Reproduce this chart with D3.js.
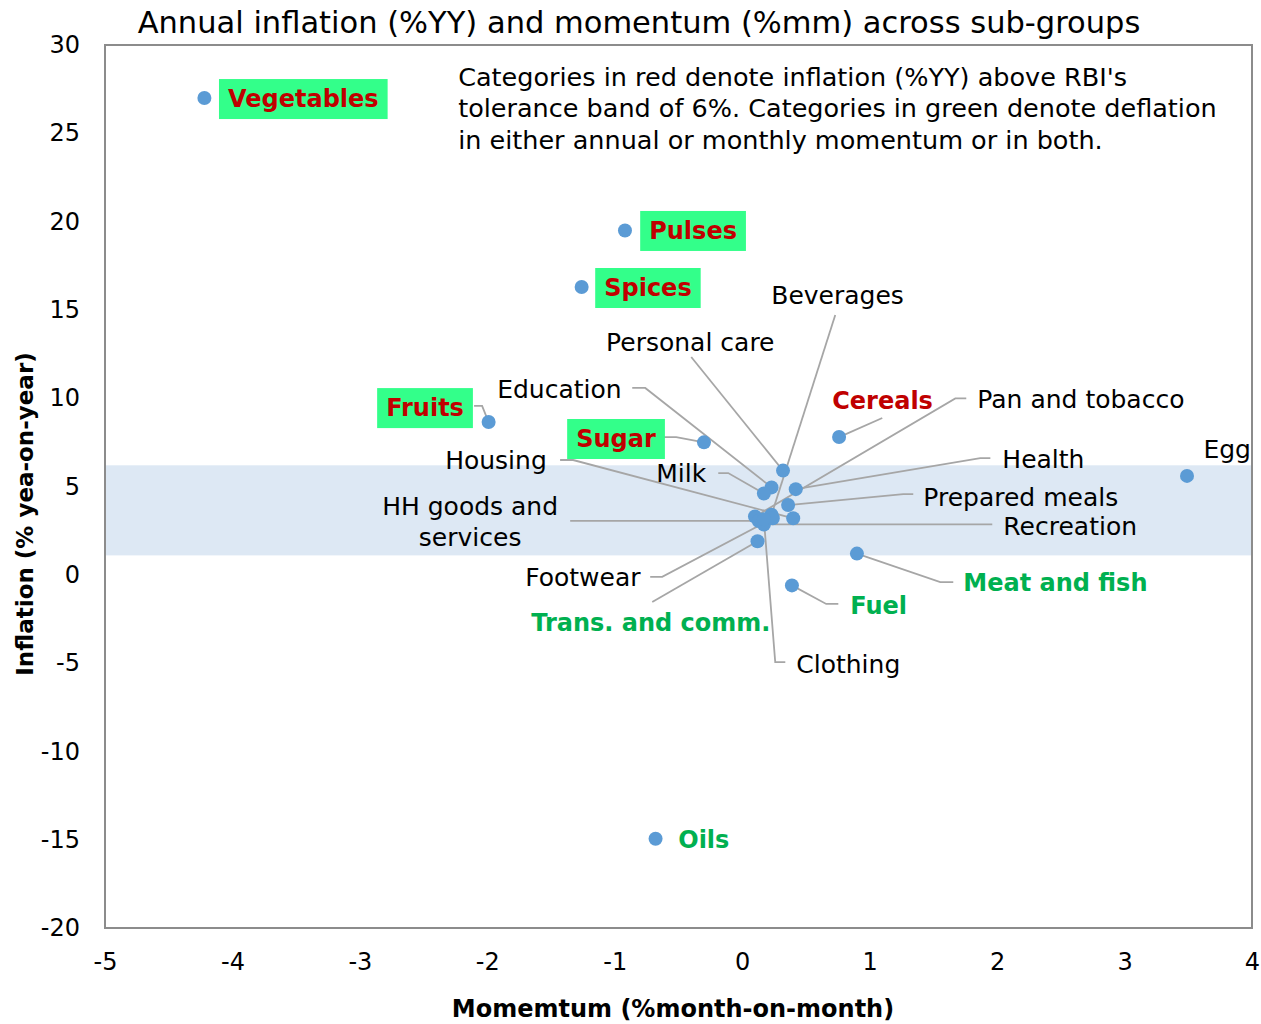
<!DOCTYPE html>
<html>
<head>
<meta charset="utf-8">
<script src="https://cdn.jsdelivr.net/npm/d3@7"></script>
<style>
  body { margin: 0; background: #fff; }
  text { font-family: "DejaVu Sans", sans-serif; }
</style>
</head>
<body>
<svg width="1261" height="1024"></svg>
<script>
// sub-group values
var categories = ["Vegetables", "Pulses", "Spices", "Fruits", "Sugar", "Cereals", "Egg",
  "Meat and fish", "Fuel", "Oils", "Personal care", "Education", "Milk", "Health",
  "Prepared meals", "Housing", "Pan and tobacco", "Beverages", "HH goods and services",
  "Recreation", "Footwear", "Clothing", "Trans. and comm."];
var momentum  = [-4.22, -0.92, -1.26, -1.99, -0.30, 0.76, 3.49, 0.90, 0.39, -0.68, 0.32, 0.23, 0.17,
  0.42, 0.36, 0.40, 0.10, 0.23, 0.13, 0.17, 0.24, 0.17, 0.12];
var inflation = [27.0, 19.5, 16.3, 8.65, 7.5, 7.8, 5.6, 1.2, -0.6, -14.95, 5.9, 4.95, 4.6,
  4.85, 3.95, 3.2, 3.3, 3.4, 3.05, 2.85, 3.2, 3.15, 1.9];
// hi = above tolerance band (boxed), hiPlain = red no box, lo = deflation, "" = normal
var labelType = ["hi", "hi", "hi", "hi", "hi", "hiPlain", "", "lo", "lo", "lo", "", "", "",
  "", "", "", "", "", "", "", "", "", "lo"];

var xTicks = [-5, -4, -3, -2, -1, 0, 1, 2, 3, 4];
var yTicks = [-20, -15, -10, -5, 0, 5, 10, 15, 20, 25, 30];
var band = [1.1, 6.2];   // RBI tolerance band shading

var title = "Annual inflation (%YY) and momentum (%mm) across sub-groups";
var xTitle = "Momemtum (%month-on-month)";
var yTitle = "Inflation (% yea-on-year)";
var note = ["Categories in red denote inflation (%YY) above RBI's",
  "tolerance band of 6%. Categories in green denote deflation",
  "in either annual or monthly momentum or in both."];

// label placement in data units: left edge x, middle y, and leader elbows (label side first)
var labelPos = {
  "Vegetables": { x: -4.035, y: 26.94, leader: [] },
  "Pulses": { x: -0.73, y: 19.47, leader: [] },
  "Spices": { x: -1.083, y: 16.24, leader: [] },
  "Fruits": { x: -2.794, y: 9.44, leader: [[-2.104, 9.56], [-2.041, 9.56]] },
  "Sugar": { x: -1.303, y: 7.69, leader: [[-0.62, 7.8], [-0.518, 7.8]] },
  "Cereals": { x: 0.706, y: 9.84, leader: [[1.099, 8.88]] },
  "Egg": { x: 3.619, y: 7.12, leader: [] },
  "Meat and fish": { x: 1.735, y: -0.46, leader: [[1.656, -0.41], [1.554, -0.41]] },
  "Fuel": { x: 0.848, y: -1.77, leader: [[0.754, -1.65], [0.659, -1.65]] },
  "Oils": { x: -0.502, y: -15.02, leader: [] },
  "Personal care": { x: -1.068, y: 13.18, leader: [[-0.40, 12.33]] },
  "Education": { x: -1.923, y: 10.52, leader: [[-0.863, 10.58], [-0.761, 10.58]] },
  "Milk": { x: -0.675, y: 5.76, leader: [[-0.188, 5.76], [-0.11, 5.76]] },
  "Health": { x: 2.041, y: 6.56, leader: [[1.947, 6.61], [1.868, 6.61]] },
  "Prepared meals": { x: 1.421, y: 4.41, leader: [[1.342, 4.57], [1.264, 4.57]] },
  "Housing": { x: -2.331, y: 6.5, leader: [[-1.429, 6.5], [-1.327, 6.5]] },
  "Pan and tobacco": { x: 1.845, y: 9.95, leader: [[1.758, 9.99], [1.672, 9.99]] },
  "Beverages": { x: 0.228, y: 15.84, leader: [[0.73, 14.71]] },
  "HH goods and services": { x: -2.135, y: 2.96, center: true, leader: [[-1.35, 3.05]] },
  "Recreation": { x: 2.049, y: 2.76, leader: [[1.962, 2.86]] },
  "Footwear": { x: -1.703, y: -0.12, leader: [[-0.722, -0.12], [-0.628, -0.12]] },
  "Clothing": { x: 0.424, y: -5.05, leader: [[0.338, -4.94], [0.259, -4.94]] },
  "Trans. and comm.": { x: -1.656, y: -2.73, leader: [[-0.706, -1.54]] }
};
var notePos = { x: -2.229, y: 28.19 };

var svg = d3.select("svg"),
    width = +svg.attr("width"),
    height = +svg.attr("height");

var margin = { top: 45, right: 9, bottom: 96, left: 105 };

var x = d3.scaleLinear().domain([-5, 4]).range([margin.left, width - margin.right]);
var y = d3.scaleLinear().domain([-20, 30]).range([height - margin.bottom, margin.top]);

var points = categories.map(function(c, i) {
  return { name: c, mx: momentum[i], yy: inflation[i], type: labelType[i] };
});

// tolerance band
svg.append("rect")
    .attr("x", x(-5))
    .attr("width", x(4) - x(-5))
    .attr("y", y(band[1]))
    .attr("height", y(band[0]) - y(band[1]))
    .attr("fill", "#dde8f4");

// plot frame
svg.append("rect")
    .attr("x", x(-5))
    .attr("y", y(30))
    .attr("width", x(4) - x(-5))
    .attr("height", y(-20) - y(30))
    .attr("fill", "none")
    .attr("stroke", "#8c8c8c")
    .attr("stroke-width", 2);

// axes, labels only (plain hyphen for negatives like the original)
var plain = function(d) { return String(d); };
var xAxis = svg.append("g")
    .attr("transform", "translate(0," + y(-20) + ")")
    .call(d3.axisBottom(x).tickValues(xTicks).tickFormat(plain).tickSize(0).tickPadding(25));
var yAxis = svg.append("g")
    .attr("transform", "translate(" + x(-5) + ",0)")
    .call(d3.axisLeft(y).tickValues(yTicks).tickFormat(plain).tickSize(0).tickPadding(25));
[xAxis, yAxis].forEach(function(a) {
  a.select(".domain").remove();
  a.selectAll("text")
      .style("font-family", "DejaVu Sans")
      .style("font-size", "24px")
      .attr("fill", "#000");
});

svg.append("text")
    .attr("x", 673)
    .attr("y", 1009)
    .attr("dy", "0.35em")
    .attr("text-anchor", "middle")
    .style("font-size", "24px")
    .style("font-weight", "bold")
    .text(xTitle);

svg.append("text")
    .attr("transform", "translate(25,514) rotate(-90)")
    .attr("dy", "0.35em")
    .attr("text-anchor", "middle")
    .style("font-size", "23px")
    .style("font-weight", "bold")
    .text(yTitle);

svg.append("text")
    .attr("x", 639)
    .attr("y", 22)
    .attr("dy", "0.35em")
    .attr("text-anchor", "middle")
    .style("font-size", "30.5px")
    .text(title);

// explanatory note
svg.append("g").selectAll("text")
    .data(note)
    .enter().append("text")
      .attr("x", x(notePos.x))
      .attr("y", function(d, i) { return y(notePos.y) + i * 31.5; })
      .attr("dy", "0.35em")
      .style("font-size", "25.5px")
      .text(function(d) { return d; });

// leader lines
var line = d3.line();
svg.append("g")
    .selectAll("path")
    .data(points.filter(function(d) { return labelPos[d.name].leader.length; }))
    .enter().append("path")
      .attr("d", function(d) {
        var pts = labelPos[d.name].leader.map(function(p) { return [x(p[0]), y(p[1])]; });
        pts.push([x(d.mx), y(d.yy)]);
        return line(pts);
      })
      .attr("fill", "none")
      .attr("stroke", "#a6a6a6")
      .attr("stroke-width", 1.8);

// markers
svg.append("g")
    .selectAll("circle")
    .data(points)
    .enter().append("circle")
      .attr("cx", function(d) { return x(d.mx); })
      .attr("cy", function(d) { return y(d.yy); })
      .attr("r", 7)
      .attr("fill", "#5b9bd5");

// data labels
var label = svg.append("g")
    .selectAll("g")
    .data(points)
    .enter().append("g");

label.each(function(d) {
  var g = d3.select(this), pos = labelPos[d.name];
  var t = g.append("text")
      .attr("x", x(pos.x))
      .attr("y", y(pos.y))
      .attr("text-anchor", pos.center ? "middle" : "start")
      .style("font-size", d.type ? "24px" : "25px")
      .style("font-weight", d.type ? "bold" : null)
      .attr("fill", d.type === "lo" ? "#00b050" : d.type ? "#c00000" : "#000");
  if (pos.center) {
    t.append("tspan").attr("x", x(pos.x)).attr("dy", "-0.3em").text("HH goods and");
    t.append("tspan").attr("x", x(pos.x)).attr("dy", "1.25em").text("services");
  } else {
    t.attr("dy", "0.35em").text(d.name);
  }
  if (d.type === "hi") {
    var bb = t.node().getBBox();
    g.insert("rect", "text")
        .attr("x", bb.x - 9)
        .attr("y", y(pos.y) - 20)
        .attr("width", bb.width + 18)
        .attr("height", 40)
        .attr("fill", "#33ff8a");
  }
});
</script>
</body>
</html>
